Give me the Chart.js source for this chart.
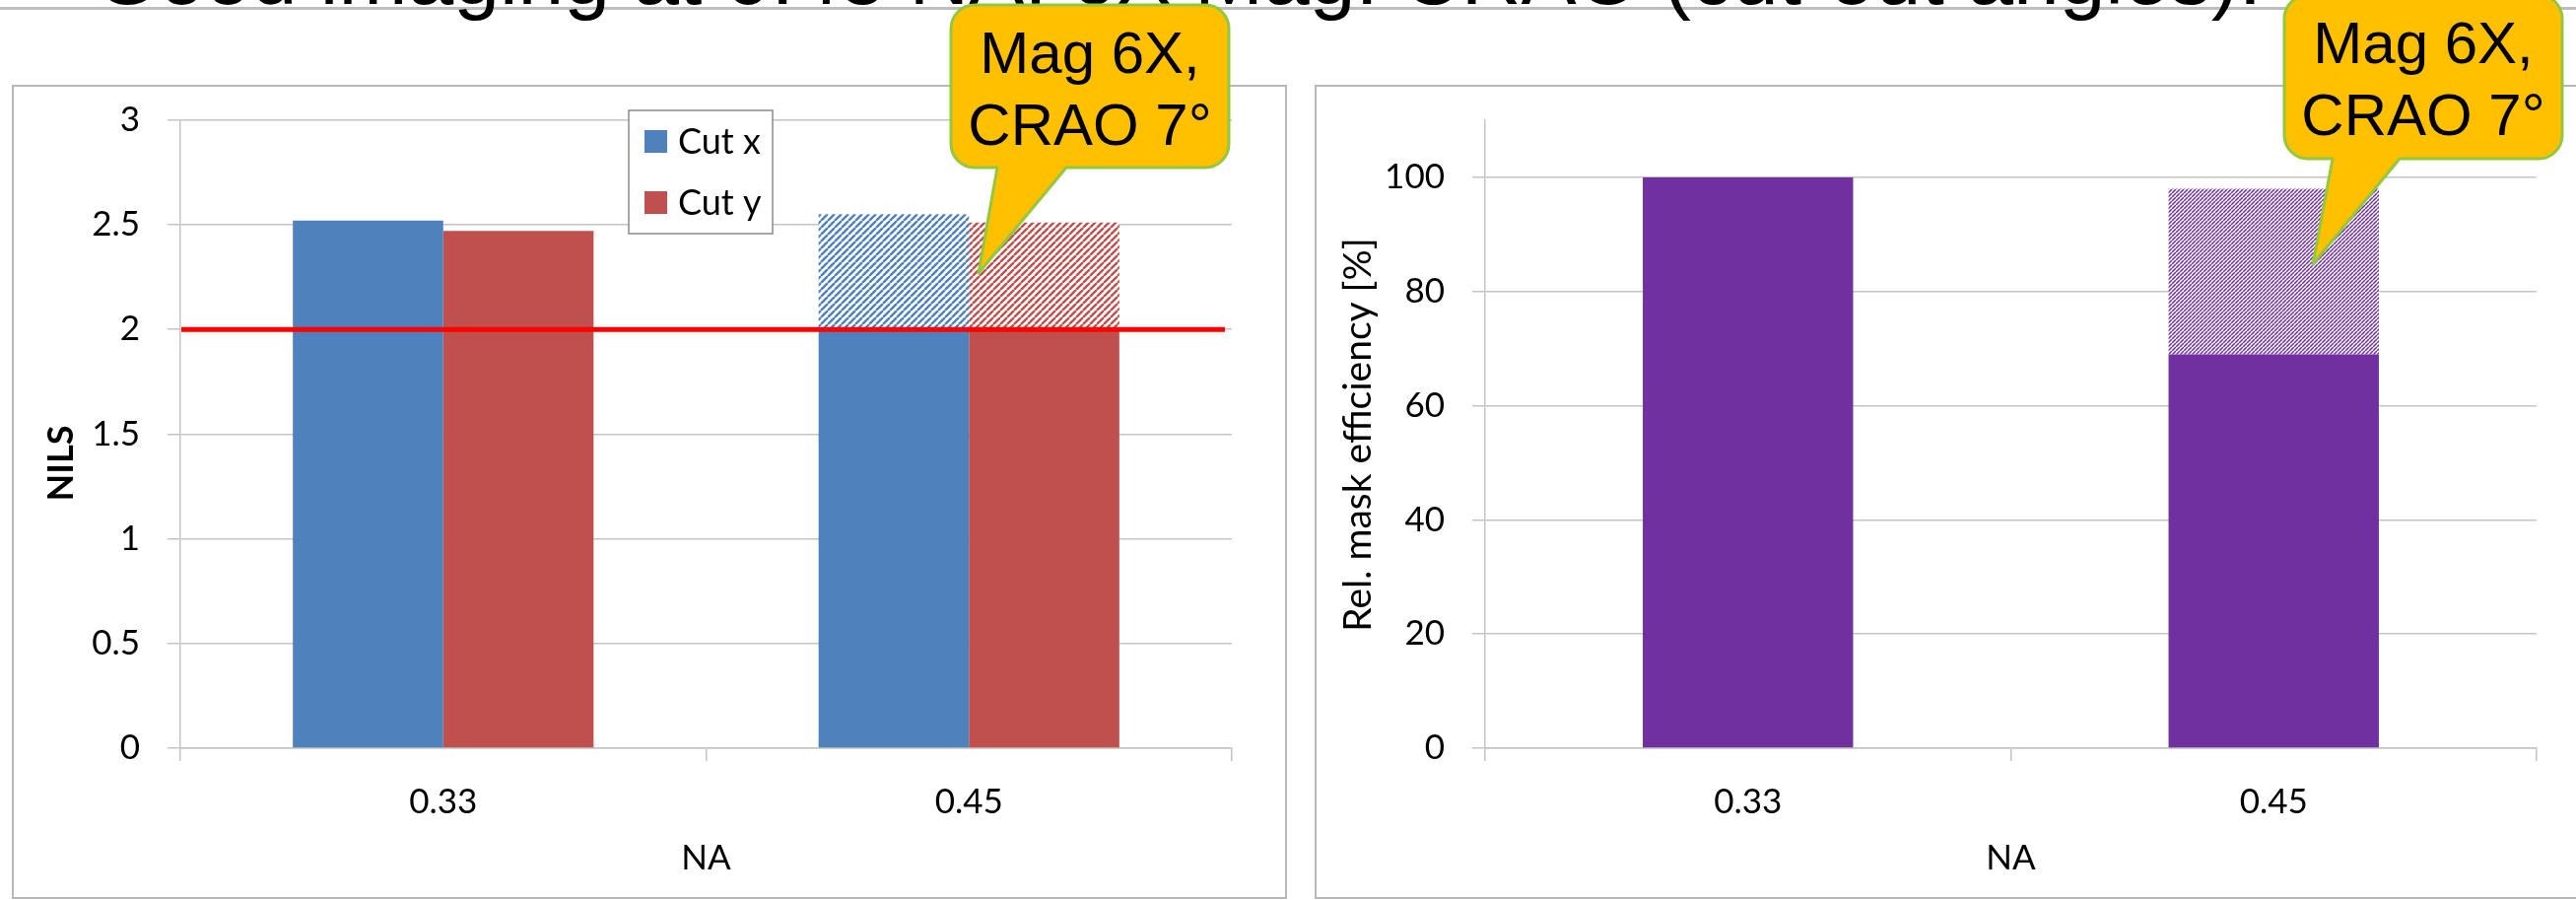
<!DOCTYPE html>
<html>
<head>
<meta charset="utf-8">
<script src="https://cdn.jsdelivr.net/npm/chart.js@4.4.1/dist/chart.umd.min.js"></script>
<style>
  html, body { margin: 0; padding: 0; background: #fff; width: 2614px; height: 913px; overflow: hidden; position: relative; }
  #rule { position: absolute; left: 0; top: 7px; width: 2614px; height: 3px; background: #bdbdbd; }
  #headline { position: absolute; left: 96px; top: -67px; font: 84px/84px "Liberation Sans", Arial, sans-serif; color: #000; white-space: nowrap; }
  .frame { position: absolute; border: 2px solid #b8b8b8; box-sizing: border-box; }
  #f1 { left: 12px; top: 86px; width: 1294px; height: 826px; }
  #f2 { left: 1334px; top: 86px; width: 1290px; height: 826px; }
  canvas { position: absolute; top: 0; }
  #nilsChart { left: 0; }
  #effChart { left: 1320px; }
</style>
</head>
<body>
<div id="rule"></div>
<div id="headline">Good imaging at 0.45 NA, 6X Mag. CRAO (cut-out angles).</div>
<div class="frame" id="f1"></div>
<div class="frame" id="f2"></div>
<canvas id="nilsChart" width="1320" height="913"></canvas>
<canvas id="effChart" width="1294" height="913"></canvas>

<script>
// ---- data ----
const categories = ['0.33', '0.45'];
const nilsCutX = [2.52, 2.55];
const nilsCutY = [2.47, 2.51];
const nilsHatchFrom = [null, 2];     // NILS above this value is shown hatched
const nilsLimit = 2;                 // required NILS (red line)
const effTotal = [100, 98];          // relative mask efficiency [%]
const effSolid = [100, 69];          // efficiency without the cut-out angles
const calloutLines = ['Mag 6X,', 'CRAO 7°'];

// ---- styling ----
const BLUE = '#4F81BD', RED = '#C0504D', PURPLE = '#7030A0';
const GRID = '#c4c4c4';
const TICK_FONT = { family: 'Lato, "Open Sans", sans-serif', size: 35 };

function hatch(color, period, width) {
  const c = document.createElement('canvas');
  c.width = c.height = period;
  const g = c.getContext('2d');
  g.fillStyle = '#fff';
  g.fillRect(0, 0, period, period);
  g.strokeStyle = color;
  g.lineWidth = width;
  g.beginPath();
  for (const o of [-period, 0, period]) {
    g.moveTo(o, period);
    g.lineTo(o + period, 0);
  }
  g.stroke();
  return g.createPattern(c, 'repeat');
}

const solidPart = (vals, from) => vals.map((v, i) => [0, from[i] == null ? v : from[i]]);
const hatchPart = (vals, from) => vals.map((v, i) => from[i] == null ? null : [from[i], v]);

function drawCallout(ctx, c) {
  const { x0, y0, x1, y1, r, tailL, tailR, tipX, tipY, cx, base1, base2 } = c;
  ctx.save();
  ctx.beginPath();
  ctx.moveTo(x0 + r, y0);
  ctx.lineTo(x1 - r, y0); ctx.arcTo(x1, y0, x1, y0 + r, r);
  ctx.lineTo(x1, y1 - r); ctx.arcTo(x1, y1, x1 - r, y1, r);
  ctx.lineTo(tailR, y1); ctx.lineTo(tipX, tipY); ctx.lineTo(tailL, y1);
  ctx.lineTo(x0 + r, y1); ctx.arcTo(x0, y1, x0, y1 - r, r);
  ctx.lineTo(x0, y0 + r); ctx.arcTo(x0, y0, x0 + r, y0, r);
  ctx.closePath();
  ctx.fillStyle = '#FFC000';
  ctx.fill();
  ctx.lineWidth = 3;
  ctx.strokeStyle = '#92C83E';
  ctx.lineJoin = 'round';
  ctx.stroke();
  ctx.fillStyle = '#000';
  ctx.font = '60px "Liberation Sans", Arial, sans-serif';
  ctx.textAlign = 'center';
  ctx.textBaseline = 'alphabetic';
  ctx.fillText(calloutLines[0], cx, base1);
  ctx.fillText(calloutLines[1], cx, base2);
  ctx.restore();
}

function drawYCaption(ctx, text, x, y, font) {
  ctx.save();
  ctx.translate(x, y);
  ctx.rotate(-Math.PI / 2);
  ctx.font = font;
  ctx.fillStyle = '#000';
  ctx.textAlign = 'center';
  ctx.textBaseline = 'middle';
  ctx.fillText(text, 0, 0);
  ctx.restore();
}

function commonScales(yOpts, yWidth) {
  return {
    x: {
      stacked: true,
      offset: true,
      grid: { display: true, drawOnChartArea: false, drawTicks: true, tickLength: 13, offset: true, color: GRID, lineWidth: 1.5 },
      border: { display: true, color: GRID, width: 1.5 },
      ticks: { font: TICK_FONT, color: '#000', padding: 21, maxRotation: 0 },
      title: { display: true, text: 'NA', font: TICK_FONT, color: '#000', padding: { top: 0, bottom: 21 } },
      afterFit: s => { s.height = 154; }
    },
    y: Object.assign({
      stacked: false,
      grid: { color: GRID, lineWidth: 1.5, tickLength: 13 },
      border: { display: true, color: GRID, width: 1.5 },
      afterFit: s => { s.width = yWidth; }
    }, yOpts)
  };
}

function buildCharts() {
  // ---- NILS chart ----
  const nilsExtras = {
    id: 'nilsExtras',
    afterDatasetsDraw(chart) {
      const { ctx, chartArea: a, scales: { y } } = chart;
      const py = y.getPixelForValue(nilsLimit);
      ctx.save();
      ctx.strokeStyle = '#FF0000';
      ctx.lineWidth = 5;
      ctx.beginPath();
      ctx.moveTo(a.left + 1, py);
      ctx.lineTo(a.right - 7, py);
      ctx.stroke();

      // legend
      ctx.fillStyle = '#fff';
      ctx.fillRect(638, 112, 146, 125);
      ctx.strokeStyle = '#8a8a8a';
      ctx.lineWidth = 1.5;
      ctx.strokeRect(638, 112, 146, 125);
      const entries = [[chart.data.datasets[0], 143.5], [chart.data.datasets[2], 205.5]];
      ctx.font = '36px Lato, "Open Sans", sans-serif';
      ctx.textBaseline = 'middle';
      ctx.textAlign = 'left';
      for (const [ds, cy] of entries) {
        ctx.fillStyle = ds.backgroundColor;
        ctx.fillRect(654, cy - 11.5, 23, 23);
        ctx.fillStyle = '#000';
        ctx.fillText(ds.label, 688, cy + 1);
      }
      ctx.restore();
    },
    afterDraw(chart) {
      const ctx = chart.ctx;
      drawYCaption(ctx, 'NILS', 62, 470, 'bold 36px Lato, "Open Sans", sans-serif');
      drawCallout(ctx, { x0: 965, y0: 5, x1: 1247, y1: 170, r: 24, tailL: 1012, tailR: 1082, tipX: 993, tipY: 277, cx: 1106, base1: 74, base2: 147 });
    }
  };

  new Chart(document.getElementById('nilsChart'), {
    type: 'bar',
    data: {
      labels: categories,
      datasets: [
        { label: 'Cut x', data: solidPart(nilsCutX, nilsHatchFrom), backgroundColor: BLUE, stack: 'x' },
        { label: 'Cut x', data: hatchPart(nilsCutX, nilsHatchFrom), backgroundColor: hatch(BLUE, 7, 2.4), stack: 'x' },
        { label: 'Cut y', data: solidPart(nilsCutY, nilsHatchFrom), backgroundColor: RED, stack: 'y' },
        { label: 'Cut y', data: hatchPart(nilsCutY, nilsHatchFrom), backgroundColor: hatch(RED, 7, 2.4), stack: 'y' }
      ]
    },
    options: {
      responsive: false,
      animation: false,
      devicePixelRatio: 1,
      categoryPercentage: 0.572,
      barPercentage: 1,
      layout: { padding: { left: 0, right: 70, top: 121.7, bottom: 0 } },
      plugins: { legend: { display: false }, tooltip: { enabled: false } },
      scales: commonScales({
        min: 0, max: 3,
        ticks: { stepSize: 0.5, font: TICK_FONT, color: '#000', padding: 28, callback: v => String(+Number(v).toFixed(1)) }
      }, 183)
    },
    plugins: [nilsExtras]
  });

  // ---- mask efficiency chart ----
  const effHatchFrom = effSolid.map((s, i) => s < effTotal[i] ? s : null);
  const effExtras = {
    id: 'effExtras',
    afterDraw(chart) {
      const ctx = chart.ctx;
      drawYCaption(ctx, 'Rel. mask efficiency [%]', 58, 441, '39px Lato, "Open Sans", sans-serif');
      drawCallout(ctx, { x0: 998, y0: -5, x1: 1280, y1: 161, r: 24, tailL: 1047, tailR: 1115, tipX: 1027, tipY: 268, cx: 1139, base1: 64, base2: 137 });
    }
  };

  new Chart(document.getElementById('effChart'), {
    type: 'bar',
    data: {
      labels: categories,
      datasets: [
        { label: 'Rel. mask efficiency', data: solidPart(effTotal, effHatchFrom), backgroundColor: PURPLE, stack: 'eff' },
        { label: 'Rel. mask efficiency', data: hatchPart(effTotal, effHatchFrom), backgroundColor: hatch(PURPLE, 4, 1.5), stack: 'eff' }
      ]
    },
    options: {
      responsive: false,
      animation: false,
      devicePixelRatio: 1,
      categoryPercentage: 0.4,
      barPercentage: 1,
      layout: { padding: { left: 0, right: 40, top: 122, bottom: 0 } },
      plugins: { legend: { display: false }, tooltip: { enabled: false } },
      scales: commonScales({
        min: 0, max: 110,
        ticks: { stepSize: 20, includeBounds: false, font: TICK_FONT, color: '#000', padding: 28 }
      }, 187)
    },
    plugins: [effExtras]
  });
}

(document.fonts && document.fonts.load ? Promise.all([
  document.fonts.load('35px Lato'),
  document.fonts.load('bold 36px Lato'),
  document.fonts.load('60px "Liberation Sans"')
]).catch(() => {}) : Promise.resolve()).then(buildCharts);
</script>
</body>
</html>
